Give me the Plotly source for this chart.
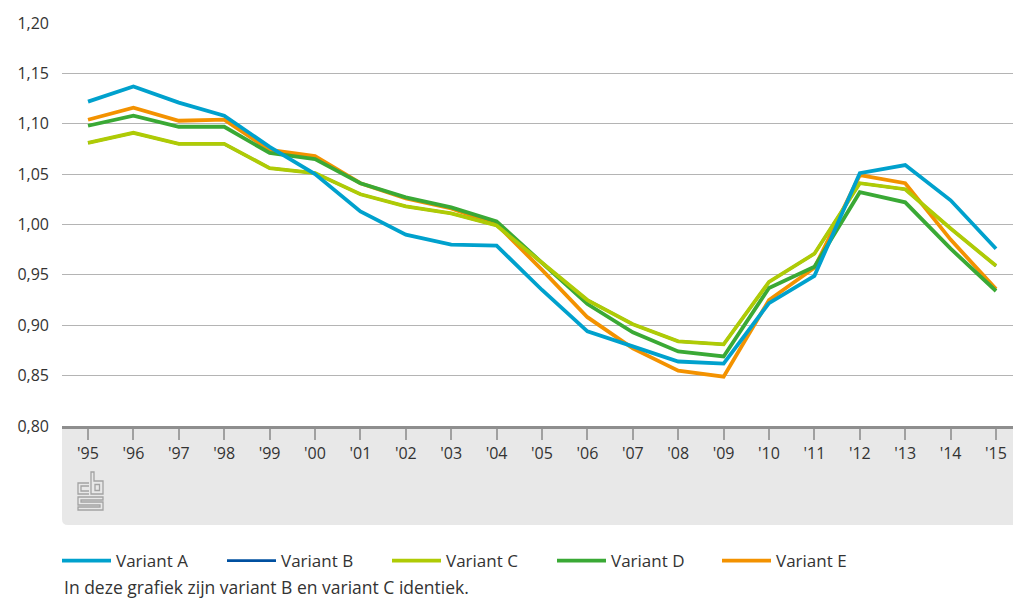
import plotly.graph_objects as go

years = ["'95", "'96", "'97", "'98", "'99", "'00", "'01", "'02", "'03", "'04",
         "'05", "'06", "'07", "'08", "'09", "'10", "'11", "'12", "'13", "'14", "'15"]

variant_a = [1.122, 1.137, 1.121, 1.108, 1.077, 1.050, 1.013, 0.990, 0.980, 0.979,
             0.935, 0.894, 0.879, 0.864, 0.862, 0.922, 0.949, 1.051, 1.059, 1.024, 0.976]
variant_c = [1.081, 1.091, 1.080, 1.080, 1.056, 1.051, 1.030, 1.018, 1.011, 0.999,
             0.962, 0.925, 0.901, 0.884, 0.881, 0.943, 0.971, 1.041, 1.035, 0.996, 0.959]
variant_b = list(variant_c)
variant_d = [1.098, 1.108, 1.097, 1.097, 1.071, 1.065, 1.041, 1.027, 1.017, 1.003,
             0.962, 0.921, 0.893, 0.874, 0.869, 0.937, 0.958, 1.032, 1.022, 0.976, 0.934]
variant_e = [1.104, 1.116, 1.103, 1.104, 1.074, 1.068, 1.041, 1.026, 1.016, 1.000,
             0.955, 0.908, 0.877, 0.855, 0.849, 0.925, 0.957, 1.049, 1.041, 0.985, 0.936]

y_ticks = [0.80, 0.85, 0.90, 0.95, 1.00, 1.05, 1.10, 1.15, 1.20]

names = ["Variant A", "Variant B", "Variant C", "Variant D", "Variant E"]
colors = ["#00A1CD", "#0050A0", "#AFCB05", "#3AA935", "#F39200"]
series = [variant_a, variant_b, variant_c, variant_d, variant_e]
widths = [3.8, 2.8, 3.8, 3.8, 3.8]

FONT = "Open Sans"
TXT = "#333333"

x_idx = list(range(len(years)))

fig = go.Figure()
# drawing order: E, D, B, C, A (A on top, B hidden under C)
for i in [4, 3, 1, 2, 0]:
    fig.add_trace(go.Scatter(
        x=x_idx, y=series[i], mode="lines", name=names[i],
        line=dict(color=colors[i], width=widths[i]),
        legendrank=i + 1, hoverinfo="skip",
    ))

W, H = 1013, 599
L, R, T, B = 62, 1013, 23, 426   # plot area in page pixels
def px(x):
    return (x - L) / (R - L)
def py(y):
    return (B - y) / (B - T)

shapes = []
# grey band under the axis with rounded bottom-left corner
r = 6
band = (f"M {px(L)},{py(B)} L {px(R)},{py(B)} L {px(R)},{py(525)} "
        f"L {px(L + r)},{py(525)} Q {px(L)},{py(525)} {px(L)},{py(525 - r)} Z")
shapes.append(dict(type="path", xref="paper", yref="paper", path=band,
                   fillcolor="#E8E8E8", line=dict(width=0), layer="below"))

# small logo
def poly(pts, close=True):
    s = "M " + " L ".join(f"{px(a)},{py(b)}" for a, b in pts)
    return s + (" Z" if close else "")
logo_col = "#A3A3A3"
logo_paths = [
    poly([(89, 483), (78, 483), (78, 494), (89, 494)], close=False),
    poly([(89, 486), (81, 486), (81, 491), (89, 491)], close=False),
    poly([(91, 472), (94, 472), (94, 481), (103, 481), (103, 494), (91, 494)]),
    poly([(95, 484.5), (99.5, 484.5), (99.5, 490.5), (95, 490.5)]),
    poly([(103, 497), (78, 497), (78, 505), (100, 505), (100, 507), (78, 507),
          (78, 510), (103, 510), (103, 502), (81, 502), (81, 500), (103, 500)]),
]
for p in logo_paths:
    shapes.append(dict(type="path", xref="paper", yref="paper", path=p,
                       line=dict(color=logo_col, width=1.3), layer="above"))

fig.update_layout(
    width=W, height=H,
    margin=dict(l=L, r=W - R, t=T, b=H - B, autoexpand=False),
    paper_bgcolor="white", plot_bgcolor="white",
    separators=",.",
    font=dict(family=FONT, size=16, color=TXT),
    shapes=shapes,
    showlegend=True,
    legend=dict(orientation="h", x=px(57), xanchor="left", y=py(543), yanchor="top",
                itemwidth=49, entrywidth=101, entrywidthmode="pixels",
                font=dict(family=FONT, size=17, color=TXT),
                bgcolor="rgba(0,0,0,0)", itemclick=False, itemdoubleclick=False),
    annotations=[dict(text="In deze grafiek zijn variant B en variant C identiek.",
                      xref="paper", yref="paper", x=0, y=py(587),
                      xanchor="left", yanchor="middle", showarrow=False,
                      font=dict(family=FONT, size=17.5, color=TXT))],
    xaxis=dict(range=[-0.573, 20.374], tickvals=x_idx, ticktext=years,
               showgrid=False, zeroline=False, automargin=False,
               showline=True, linecolor="#8E8E8E", linewidth=3,
               ticks="outside", ticklen=11, tickcolor="#A0A0A0", tickwidth=1.5,
               tickfont=dict(family=FONT, size=16, color=TXT), fixedrange=True),
    yaxis=dict(range=[0.80, 1.20], tickvals=y_ticks, tickformat=".2f",
               showgrid=True, gridcolor="#B4B4B4", gridwidth=1.3,
               zeroline=False, showline=False, ticks="", automargin=False,
               ticklabelstandoff=12,
               tickfont=dict(family=FONT, size=16, color=TXT), fixedrange=True),
)

fig.write_html("out.html",
               config={"displayModeBar": False},
               post_script="document.body.style.margin='0';"
                           "document.body.style.overflow='hidden';")
